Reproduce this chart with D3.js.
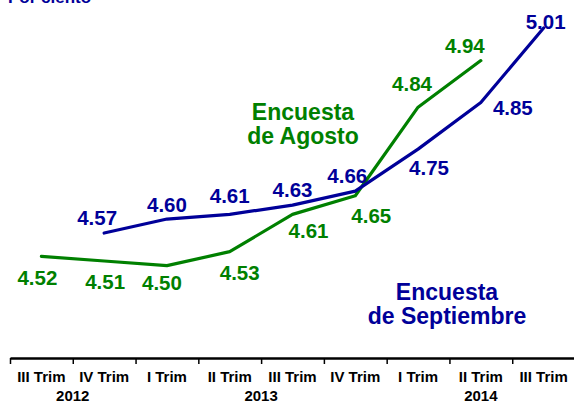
<!DOCTYPE html>
<html>
<head>
<meta charset="utf-8">
<script src="https://cdn.jsdelivr.net/npm/d3@7"></script>
<style>
  body { margin: 0; background: #fff; }
  svg { display: block; font-family: "Liberation Sans", Arial, sans-serif; font-weight: bold; }
</style>
</head>
<body>
<div id="chart"></div>
<script>
// quarters on the x axis
var quarters = ["III Trim", "IV Trim", "I Trim", "II Trim", "III Trim", "IV Trim", "I Trim", "II Trim", "III Trim"];
var years = [
  {year: "2012", from: 0, to: 2},
  {year: "2013", from: 2, to: 6},
  {year: "2014", from: 6, to: 9}
];

// Encuesta de Agosto: III Trim 2012 .. II Trim 2014
var agostoStart = 0;
var agosto = [4.52, 4.51, 4.50, 4.53, 4.61, 4.65, 4.84, 4.94];
// Encuesta de Septiembre: IV Trim 2012 .. III Trim 2014
var septStart = 1;
var septiembre = [4.57, 4.60, 4.61, 4.63, 4.66, 4.75, 4.85, 5.01];

// label offsets (px) from each point
var agostoOff = [[-4, 29], [1, 28], [-5, 24], [10, 28], [16, 24], [16, 27], [-6, -16], [-16, -8]];
var septOff = [[-7, -8], [0, -7], [0, -11], [0, -8], [-8, -8], [11, 26], [32, 12], [2, 1]];

var green = "#008000", blue = "#000099";

var svg = d3.select("#chart").append("svg")
    .attr("width", 574)
    .attr("height", 403);

var xi = d3.scaleLinear().domain([0, quarters.length]).range([10, 575]);
var xc = function(i) { return xi(i + 0.5); };
var y = d3.scaleLinear().domain([4.304, 5.07]).range([357, 0]);

// header, cut off at the top like the original
svg.append("text")
    .attr("x", 8).attr("y", 3)
    .attr("fill", blue)
    .attr("font-size", 17)
    .text("Por ciento");

// x axis
var xAxis = d3.axisBottom(xi)
    .tickValues(d3.range(quarters.length + 1))
    .tickFormat("")
    .tickSizeInner(6)
    .tickSizeOuter(0);

var ax = svg.append("g")
    .attr("transform", "translate(0,358)")
    .call(xAxis);
ax.select(".domain").attr("stroke", "#000").attr("stroke-width", 2.5);
ax.selectAll(".tick line").attr("stroke", "#000").attr("stroke-width", 1.5);

svg.append("g").selectAll("text")
    .data(quarters)
    .enter().append("text")
      .attr("x", function(d, i) { return xc(i); })
      .attr("y", 382)
      .attr("text-anchor", "middle")
      .attr("font-size", 15)
      .attr("fill", "#000")
      .text(function(d) { return d; });

svg.append("g").selectAll("text")
    .data(years)
    .enter().append("text")
      .attr("x", function(d) { return xi((d.from + d.to) / 2); })
      .attr("y", 401)
      .attr("text-anchor", "middle")
      .attr("font-size", 15)
      .attr("fill", "#000")
      .text(function(d) { return d.year; });

function drawSeries(values, start, offsets, color) {
  var pts = values.map(function(v, i) { return {i: start + i, v: v, off: offsets[i]}; });
  var line = d3.line()
      .x(function(d) { return xc(d.i); })
      .y(function(d) { return y(d.v); });

  svg.append("path")
      .datum(pts)
      .attr("d", line)
      .attr("fill", "none")
      .attr("stroke", color)
      .attr("stroke-width", 3.2)
      .attr("stroke-linejoin", "round")
      .attr("stroke-linecap", "round");

  svg.append("g").selectAll("text")
      .data(pts)
      .enter().append("text")
        .attr("x", function(d) { return xc(d.i) + d.off[0]; })
        .attr("y", function(d) { return y(d.v) + d.off[1]; })
        .attr("text-anchor", "middle")
        .attr("font-size", 20.5)
        .attr("fill", color)
        .text(function(d) { return d.v.toFixed(2); });
}

drawSeries(agosto, agostoStart, agostoOff, green);
drawSeries(septiembre, septStart, septOff, blue);

// series names
function legend(lines, x, y0, color) {
  svg.append("text")
      .attr("x", x).attr("y", y0)
      .attr("text-anchor", "middle")
      .attr("font-size", 23)
      .attr("fill", color)
    .selectAll("tspan")
    .data(lines)
    .enter().append("tspan")
      .attr("x", x)
      .attr("dy", function(d, i) { return i ? 24 : 0; })
      .text(function(d) { return d; });
}
legend(["Encuesta", "de Agosto"], 303, 120, green);
legend(["Encuesta", "de Septiembre"], 447, 300, blue);
</script>
</body>
</html>
